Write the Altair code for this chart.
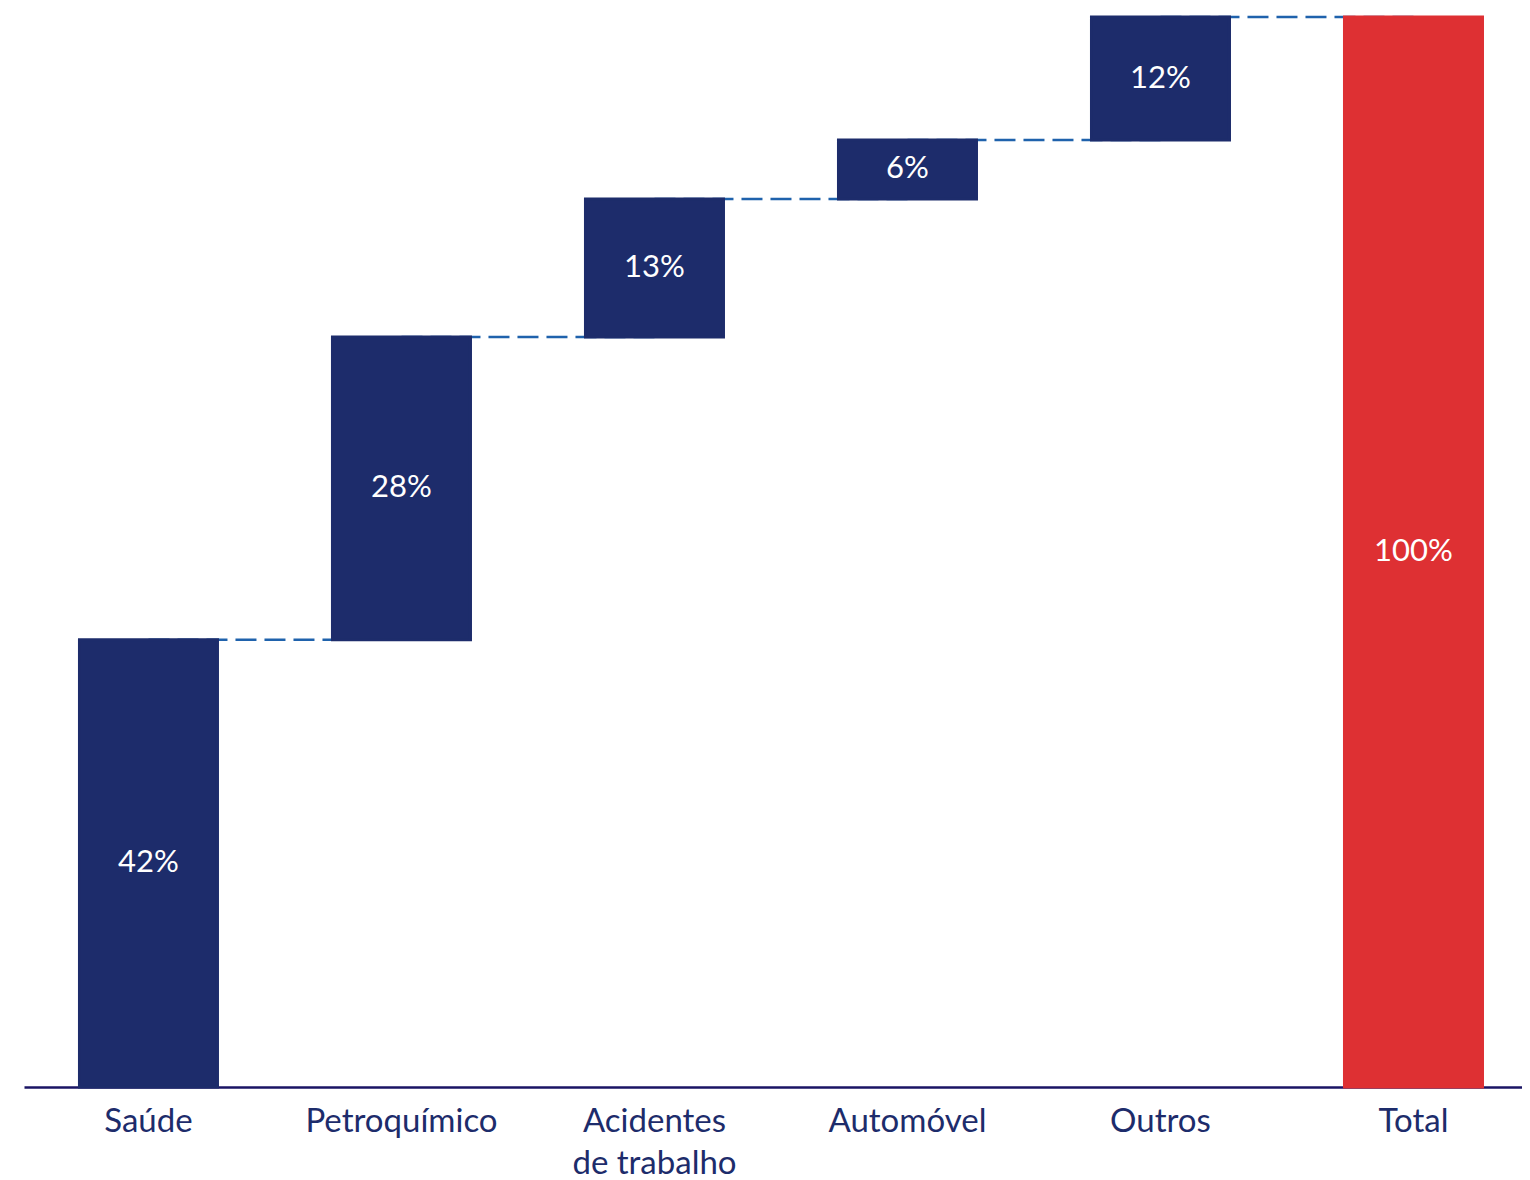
import altair as alt
import pandas as pd

categories = ["Saúde", "Petroquímico", "Acidentes\nde trabalho", "Automóvel", "Outros", "Total"]
step_values = [41.8, 28.3, 12.9, 5.5, 11.5]
total_value = 100.0
labels = ["42%", "28%", "13%", "6%", "12%", "100%"]

NAVY = "#1D2C6B"
RED = "#DE3033"
DASH = "#1F62AC"
AXIS = "#1A1464"
FONT = "Lato"

rows = []
cum = 0.0
for cat, v, lab in zip(categories[:-1], step_values, labels[:-1]):
    start, end = cum, cum + v
    rows.append({"cat": cat, "start": start, "end": end, "mid": (start + end) / 2,
                 "label": lab, "kind": "step"})
    cum = end
rows.append({"cat": categories[-1], "start": 0.0, "end": total_value, "mid": total_value / 2,
             "label": labels[-1], "kind": "total"})
df = pd.DataFrame(rows)

conn_rows = []
for i in range(len(rows) - 1):
    conn_rows.append({"cat": rows[i]["cat"], "level": rows[i]["end"], "cid": i})
    conn_rows.append({"cat": rows[i + 1]["cat"], "level": rows[i]["end"], "cid": i})
conn = pd.DataFrame(conn_rows)

xscale = alt.Scale(domain=categories, paddingInner=0.4545, paddingOuter=0.1877, align=0.584)
yscale = alt.Scale(domain=[0, 100], nice=False, zero=True)

xaxis = alt.Axis(
    title=None, ticks=False, domain=True, domainColor=AXIS, domainWidth=2.5,
    labelAngle=0, labelFont=FONT, labelFontSize=33, labelColor=NAVY,
    labelPadding=18, labelLineHeight=42, labelLimit=0,
    labelExpr="split(datum.value, '\\n')",
)

connectors = alt.Chart(conn).mark_line(color=DASH, strokeWidth=2.5, strokeDash=[21, 8]).encode(
    x=alt.X("cat:N", scale=xscale, sort=categories, axis=xaxis),
    y=alt.Y("level:Q", scale=yscale, axis=None),
    detail="cid:N",
)

kind_scale = alt.Scale(domain=["step", "total"], range=[NAVY, RED])
bars = alt.Chart(df).mark_bar(strokeWidth=3).encode(
    x=alt.X("cat:N", scale=xscale, sort=categories, axis=xaxis),
    y=alt.Y("start:Q", scale=yscale, axis=None),
    y2="end:Q",
    color=alt.Color("kind:N", scale=kind_scale, legend=None),
    stroke=alt.Stroke("kind:N", scale=kind_scale, legend=None),
)

text = alt.Chart(df).mark_text(color="white", font=FONT, fontSize=31, baseline="middle").encode(
    x=alt.X("cat:N", scale=xscale, sort=categories),
    y=alt.Y("mid:Q", scale=yscale),
    text="label:N",
)

chart = alt.layer(connectors, bars, text).properties(
    width=1498, height=1070,
    padding={"left": 16, "top": 9, "right": 0, "bottom": 92},
    autosize=alt.AutoSizeParams(type="none"),
).configure(background="white").configure_view(stroke=None)

chart.save("out.html", embed_options={"renderer": "svg", "actions": False})
